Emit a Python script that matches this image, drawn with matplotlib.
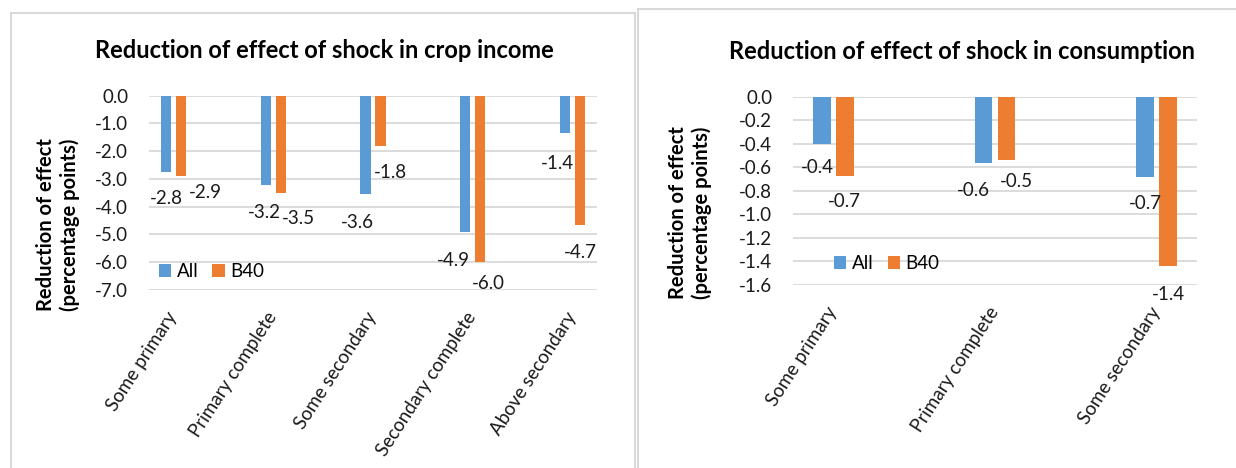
import matplotlib
matplotlib.use("Agg")
import matplotlib.pyplot as plt
from matplotlib.patches import Rectangle
import numpy as np

plt.rcParams["font.family"] = ["Lato", "DejaVu Sans"]

W, H = 1236, 468

# Crop income panel
crop_levels = ["Some primary", "Primary complete", "Some secondary",
               "Secondary complete", "Above secondary"]
crop_all = [-2.76, -3.23, -3.56, -4.93, -1.36]
crop_b40 = [-2.90, -3.50, -1.80, -6.00, -4.67]

# Consumption panel
cons_levels = ["Some primary", "Primary complete", "Some secondary"]
cons_all = [-0.40, -0.56, -0.68]
cons_b40 = [-0.67, -0.54, -1.44]

BLUE = "#5B9BD5"
ORANGE = "#ED7D31"
GRID = "#D9D9D9"
TEXT = "#1a1a1a"
FS = 13.5

# label nudges (dx, dy) in pixels below the end of each bar
crop_all_nudge = [(0, 26), (-1, 27), (-8, 28), (-12, 28), (-8, 30)]
crop_b40_nudge = [(24, 16), (18, 26), (10, 27), (8, 22), (0, 27)]
cons_all_nudge = [(-5, 24), (-10, 28), (0, 27)]
cons_b40_nudge = [(0, 26), (10, 21), (0, 28)]


def px_rect(x0, y0, x1, y1):
    return [x0 / W, 1 - y1 / H, (x1 - x0) / W, (y1 - y0) / H]


def panel(ax, levels, all_vals, b40_vals, width, offset, ymin, step,
          all_nudge, b40_nudge, xpad, legend_xy):
    x = np.arange(len(levels))
    ax.set_axisbelow(True)
    ax.bar(x - offset, all_vals, width, color=BLUE, label="All", zorder=2)
    ax.bar(x + offset, b40_vals, width, color=ORANGE, label="B40", zorder=2)

    for xs, vals, nudges in ((x - offset, all_vals, all_nudge),
                             (x + offset, b40_vals, b40_nudge)):
        for xi, v, (dx, dy) in zip(xs, vals, nudges):
            ax.annotate(f"{v:.1f}", xy=(xi, v), xytext=(dx, -dy),
                        textcoords="offset pixels", ha="center", va="center",
                        fontsize=FS, color=TEXT)

    n = int(round(-ymin / step))
    ticks = np.linspace(ymin, 0, n + 1)
    ax.set_ylim(ymin, 0)
    ax.set_yticks(ticks)
    ax.set_yticklabels([f"{t:.1f}" if abs(t) > 1e-9 else "0.0" for t in ticks])
    ax.set_xticks(x)
    ax.set_xticklabels(levels, rotation=57, ha="right", va="center",
                       rotation_mode="anchor")
    ax.set_xlim(-xpad, len(levels) - 1 + xpad)

    ax.grid(axis="y", color=GRID, linewidth=1.3)
    ax.tick_params(length=0, labelsize=FS, colors=TEXT)
    ax.tick_params(axis="y", pad=15)
    ax.tick_params(axis="x", pad=17)
    for s in ax.spines.values():
        s.set_visible(False)

    ax.legend(loc="center left", bbox_to_anchor=legend_xy, ncol=2,
              frameon=False, fontsize=FS, borderpad=0, borderaxespad=0,
              handlelength=0.65, handleheight=0.65, handletextpad=0.3,
              columnspacing=0.75)


fig = plt.figure(figsize=(W / 100, H / 100), dpi=100)

# chart frames
fig.patches.append(Rectangle((11 / W, -0.1), 624 / W, 1.1 - 13 / H,
                             transform=fig.transFigure, fill=False,
                             edgecolor=GRID, linewidth=1.5))
fig.patches.append(Rectangle((638 / W, -0.1), 0.5, 1.1 - 9 / H,
                             transform=fig.transFigure, fill=False,
                             edgecolor=GRID, linewidth=1.5))

ax1 = fig.add_axes(px_rect(149, 95.7, 597, 289.7))
panel(ax1, crop_levels, crop_all, crop_b40, 0.105, 0.075, -7.0, 1.0,
      crop_all_nudge, crop_b40_nudge, 0.246, (0.022, 0.093))

ax2 = fig.add_axes(px_rect(793, 96.7, 1197, 285))
panel(ax2, cons_levels, cons_all, cons_b40, 0.111, 0.071, -1.6, 0.2,
      cons_all_nudge, cons_b40_nudge, 0.25, (0.102, 0.115))

fig.text(324.5 / W, 1 - 50.5 / H, "Reduction of effect of shock in crop income",
         ha="center", va="center", fontsize=17, fontweight="bold", color="black")
fig.text(962 / W, 1 - 51.5 / H, "Reduction of effect of shock in consumption",
         ha="center", va="center", fontsize=17, fontweight="bold", color="black")

ylab = "Reduction of effect\n(percentage points)"
fig.text(58 / W, 1 - 225 / H, ylab, rotation=90, ha="center", va="center",
         fontsize=14.5, fontweight="bold", color="black", linespacing=1.15,
         multialignment="center")
fig.text(690 / W, 1 - 213 / H, ylab, rotation=90, ha="center", va="center",
         fontsize=14.5, fontweight="bold", color="black", linespacing=1.15,
         multialignment="center")

fig.savefig("out.png", dpi=100)
